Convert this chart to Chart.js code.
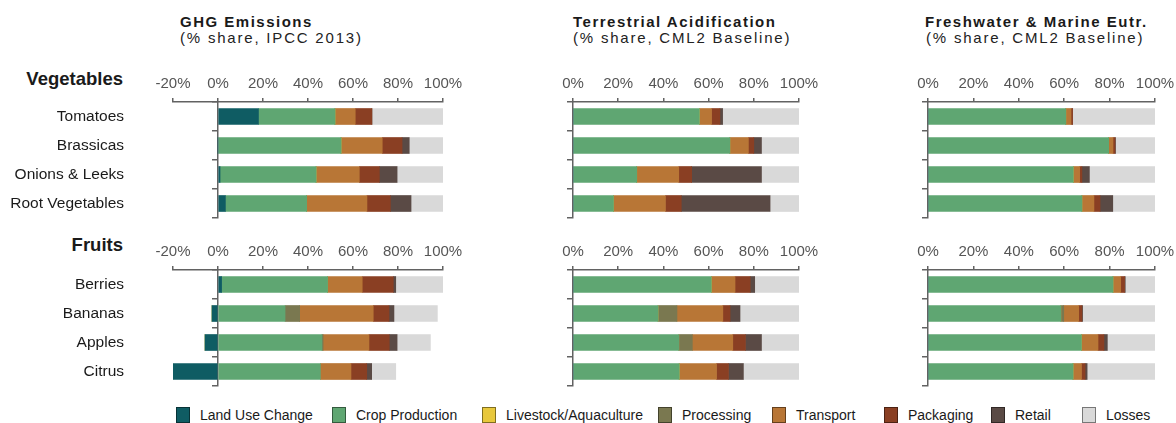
<!DOCTYPE html>
<html>
<head>
<meta charset="utf-8">
<script src="https://cdn.jsdelivr.net/npm/chart.js@4.4.1/dist/chart.umd.min.js"></script>
<style>
  body { margin: 0; width: 1176px; height: 423px; position: relative; overflow: hidden; background: #fff;
         font-family: "Liberation Sans", Arial, sans-serif; color: #1a1a1a; }
  canvas { position: absolute; }
  .t { position: absolute; white-space: nowrap; font-size: 15px; line-height: 16px; }
  .tb { font-weight: bold; letter-spacing: 1.5px; }
  .ts { letter-spacing: 1.8px; color: #222; }
  .grp { position: absolute; font-weight: bold; font-size: 18.5px; line-height: 22px; text-align: right; }
  .lg { position: absolute; top: 407px; height: 16px; display: flex; align-items: center; font-size: 14px; white-space: nowrap; }
  .lg i { display: inline-block; width: 14px; height: 16px; box-sizing: border-box; border: 1px solid rgba(0,0,0,0.45); margin-right: 10px; }
</style>
</head>
<body>

<div class="t tb" style="left:180px;top:14px">GHG Emissions</div>
<div class="t ts" style="left:180px;top:29.5px">(% share, IPCC 2013)</div>
<div class="t tb" style="left:573px;top:14px">Terrestrial Acidification</div>
<div class="t ts" style="left:573px;top:29.5px">(% share, CML2 Baseline)</div>
<div class="t tb" style="left:925px;top:14px">Freshwater &amp; Marine Eutr.</div>
<div class="t ts" style="left:926px;top:29.5px">(% share, CML2 Baseline)</div>

<div class="grp" style="right:1053px;top:68px">Vegetables</div>
<div class="grp" style="right:1053px;top:234px">Fruits</div>

<div id="legend"></div>

<script>
// products
const vegLabels = ['Tomatoes', 'Brassicas', 'Onions & Leeks', 'Root Vegetables'];
const fruitLabels = ['Berries', 'Bananas', 'Apples', 'Citrus'];

// supply chain stages (legend order = stacking order)
const stages = ['Land Use Change', 'Crop Production', 'Livestock/Aquaculture', 'Processing',
                'Transport', 'Packaging', 'Retail', 'Losses'];
const stageColors = ['#0f5c63', '#5fa672', '#e8c83c', '#7a7850',
                     '#b87636', '#8a3f23', '#5a4a45', '#d9d9d9'];

// % share per product, one value per stage (same order as stages)
const ghgVeg = [
  [18, 34, 0, 0, 9, 7.4, 0, 31.6],
  [0, 54.7, 0, 0, 18.3, 8.8, 3.2, 15],
  [0.9, 42.7, 0, 0, 19.2, 8.9, 7.9, 20.4],
  [3.3, 36.1, 0, 0, 26.8, 10.4, 9.2, 14.2]
];
const ghgFruit = [
  [1.6, 47.1, 0, 0, 15.4, 13.8, 1.1, 21],
  [-2.7, 29.8, 0, 6.5, 32.7, 7.0, 2.2, 19.3],
  [-5.8, 46.2, 0, 0.5, 20.4, 9.0, 3.5, 14.8],
  [-20.1, 45.5, 0, 0, 13.6, 7.0, 2.2, 10.7]
];
const acidVeg = [
  [0, 55.9, 0, 0, 5.4, 3.7, 1.2, 33.8],
  [0, 69.4, 0, 0, 8.2, 2.4, 3.4, 16.6],
  [0, 28.2, 0, 0, 18.6, 5.7, 30.9, 16.6],
  [0, 17.9, 0, 0, 23.0, 7.0, 39.3, 12.8]
];
const acidFruit = [
  [0, 61.2, 0, 0, 10.5, 6.7, 2.0, 19.6],
  [0, 37.6, 0, 8.4, 20.3, 3.2, 4.4, 26.1],
  [0, 46.8, 0, 6.0, 17.9, 5.6, 7.1, 16.6],
  [0, 47.0, 0, 0, 16.5, 5.3, 6.6, 24.6]
];
const eutrVeg = [
  [0, 60.7, 0, 0, 2.3, 0.7, 0, 36.3],
  [0, 79.6, 0, 0, 1.9, 0.9, 0.2, 17.4],
  [0, 64.0, 0, 0, 2.8, 1.0, 3.3, 28.9],
  [0, 67.8, 0, 0, 5.3, 2.7, 5.6, 18.6]
];
const eutrFruit = [
  [0, 81.5, 0, 0, 3.4, 1.7, 0.3, 13.1],
  [0, 58.5, 0, 1.3, 6.6, 1.4, 0.3, 31.9],
  [0, 67.6, 0, 0, 7.3, 2.6, 1.5, 21.0],
  [0, 63.9, 0, 0, 3.7, 1.6, 0.9, 29.9]
];

const ghgTicks = [-20, 0, 20, 40, 60, 80, 100];
const shareTicks = [0, 20, 40, 60, 80, 100];

// layout of the panels on the page
const cols = {
  ghg:  { left: 173, right: 443, canvasLeft: 0, labels: true },
  acid: { left: 573, right: 799, canvasLeft: 510, labels: false },
  eutr: { left: 928, right: 1155, canvasLeft: 870, labels: false }
};
const rows = {
  veg:   { top: 102, bottom: 218 },
  fruit: { top: 270, bottom: 386 }
};
const legendLeft = [176, 332, 482, 658, 772, 884, 991, 1082];

Chart.defaults.font.family = '"Liberation Sans", Arial, sans-serif';
Chart.defaults.animation = false;

const axisColor = '#626262';

function makePanel(labels, values, tickVals, col, row) {
  const cv = document.createElement('canvas');
  const left = col.canvasLeft;
  const top = row.top - 50;
  cv.width = col.right + 30 - left;
  cv.height = row.bottom + 20 - top;
  cv.style.left = left + 'px';
  cv.style.top = top + 'px';
  document.body.appendChild(cv);

  const datasets = stages.map((name, i) => ({
    label: name,
    data: values.map(r => r[i]),
    backgroundColor: stageColors[i],
    borderWidth: 0,
    barThickness: 16,
    yAxisID: 'y',
    stack: 'all'
  }));

  new Chart(cv, {
    type: 'bar',
    data: { labels: labels, datasets: datasets },
    options: {
      indexAxis: 'y',
      responsive: false,
      devicePixelRatio: 1,
      layout: { padding: { left: 0, top: 0, right: 30, bottom: 20 } },
      plugins: { legend: { display: false }, tooltip: { enabled: false } },
      scales: {
        x: {
          type: 'linear',
          position: 'top',
          stacked: true,
          min: tickVals[0],
          max: tickVals[tickVals.length - 1],
          afterBuildTicks: s => { s.ticks = tickVals.map(v => ({ value: v })); },
          afterFit: s => { s.height = row.top - top; },
          ticks: { color: '#555', font: { size: 15 }, padding: 5, callback: v => v + '%' },
          grid: { drawOnChartArea: false, drawTicks: true, tickLength: 4, color: axisColor, lineWidth: 1.5 },
          border: { display: true, color: axisColor, width: 1.5 }
        },
        y: {
          type: 'category',
          position: 'left',
          stacked: true,
          offset: true,
          afterFit: s => { s.width = col.left - left; s.paddingTop = 0; s.paddingBottom = 0; },
          ticks: { display: col.labels, color: '#1a1a1a', font: { size: 15.5 }, padding: 49 },
          grid: { display: false, drawTicks: false },
          border: { display: false }
        },
        y0: {
          type: 'category',
          axis: 'y',
          position: { x: 0 },
          offset: true,
          ticks: { display: false },
          grid: { offset: true, drawOnChartArea: false, drawTicks: true, tickLength: 5, color: axisColor, lineWidth: 1.5 },
          border: { display: true, color: axisColor, width: 1.5 }
        }
      }
    }
  });
}

makePanel(vegLabels, ghgVeg, ghgTicks, cols.ghg, rows.veg);
makePanel(fruitLabels, ghgFruit, ghgTicks, cols.ghg, rows.fruit);
makePanel(vegLabels, acidVeg, shareTicks, cols.acid, rows.veg);
makePanel(fruitLabels, acidFruit, shareTicks, cols.acid, rows.fruit);
makePanel(vegLabels, eutrVeg, shareTicks, cols.eutr, rows.veg);
makePanel(fruitLabels, eutrFruit, shareTicks, cols.eutr, rows.fruit);

// legend
const legend = document.getElementById('legend');
stages.forEach((name, i) => {
  const item = document.createElement('div');
  item.className = 'lg';
  item.style.left = legendLeft[i] + 'px';
  item.innerHTML = '<i style="background:' + stageColors[i] + '"></i>' + name;
  legend.appendChild(item);
});
</script>
</body>
</html>
